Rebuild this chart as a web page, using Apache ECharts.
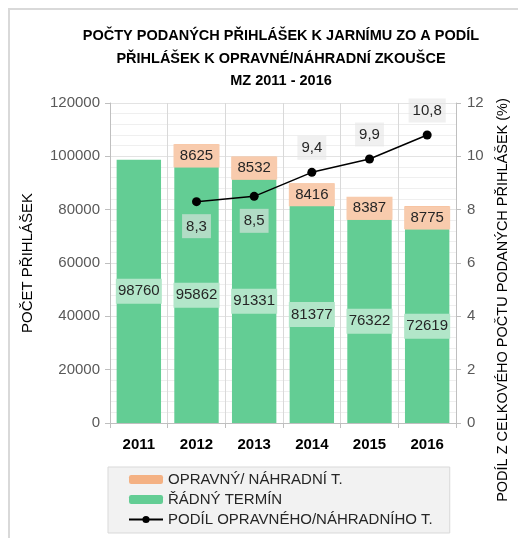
<!DOCTYPE html>
<html>
<head>
<meta charset="utf-8">
<script src="https://cdn.jsdelivr.net/npm/echarts@6/dist/echarts.min.js"></script>
<style>
  html, body { margin: 0; padding: 0; background: #fff; }
  #chart { width: 518px; height: 538px; }
</style>
</head>
<body>
<div id="chart"></div>
<script>
// data
const roky = ['2011', '2012', '2013', '2014', '2015', '2016']
const radny = [98760, 95862, 91331, 81377, 76322, 72619]
const opravny = [null, 8625, 8532, 8416, 8387, 8775]
const podil = [null, 8.3, 8.5, 9.4, 9.9, 10.8]

const nazvy = ['OPRAVNÝ/ NÁHRADNÍ T.', 'ŘÁDNÝ TERMÍN', 'PODÍL OPRAVNÉHO/NÁHRADNÍHO T.']
const pismo = 'Liberation Sans'

// popisky pod bodem u prvnich dvou let
const dole = ['2012', '2013']

const chart = echarts.init(document.getElementById('chart'))

const option = {
  animation: false,
  textStyle: {fontFamily: pismo},
  title: {
    text: 'POČTY PODANÝCH PŘIHLÁŠEK K JARNÍMU ZO A PODÍL\nPŘIHLÁŠEK K OPRAVNÉ/NÁHRADNÍ ZKOUŠCE\nMZ 2011 - 2016',
    left: 276,
    top: 20,
    textAlign: 'center',
    textStyle: {
      fontFamily: pismo,
      fontSize: 14.5,
      fontWeight: 'bold',
      color: '#000',
      lineHeight: 22.5
    }
  },
  graphic: [{
    type: 'rect',
    shape: {x: 9, y: 9, width: 700, height: 700},
    style: {fill: 'none', stroke: '#d9d9d9', lineWidth: 2},
    silent: true
  }],
  legend: {
    left: 108,
    top: 467,
    orient: 'vertical',
    data: nazvy,
    backgroundColor: '#f2f2f2',
    borderColor: '#d9d9d9',
    borderWidth: 1,
    padding: [5, 17, 6, 20],
    itemGap: 5,
    itemWidth: 34,
    itemHeight: 9,
    textStyle: {fontFamily: pismo, fontSize: 15, color: '#262626'}
  },
  grid: {left: 110, right: 57, top: 103, bottom: 115},
  xAxis: {
    type: 'category',
    data: roky,
    axisLine: {lineStyle: {color: '#bfbfbf'}},
    axisTick: {show: true, length: 5, lineStyle: {color: '#bfbfbf'}},
    splitLine: {show: true, lineStyle: {color: '#d9d9d9'}},
    axisLabel: {fontFamily: pismo, fontSize: 15, fontWeight: 'bold', color: '#000', margin: 14}
  },
  yAxis: [
    {
      type: 'value',
      min: 0,
      max: 120000,
      interval: 20000,
      name: 'POČET PŘIHLÁŠEK',
      nameLocation: 'middle',
      nameGap: 75,
      nameTextStyle: {fontFamily: pismo, fontSize: 15, color: '#000'},
      axisLine: {show: true, lineStyle: {color: '#bfbfbf'}},
      axisTick: {show: true, length: 5, lineStyle: {color: '#bfbfbf'}},
      axisLabel: {fontFamily: pismo, fontSize: 15, color: '#595959', margin: 10, formatter: v => String(v)},
      splitLine: {show: true, lineStyle: {color: '#e3e3e3'}},
      minorSplitLine: {show: true, lineStyle: {color: '#efefef'}},
      minorTick: {show: false, splitNumber: 5}
    },
    {
      type: 'value',
      min: 0,
      max: 12,
      interval: 2,
      position: 'right',
      name: 'PODÍL Z CELKOVÉHO POČTU PODANÝCH PŘIHLÁŠEK (%)',
      nameLocation: 'middle',
      nameRotate: 90,
      nameGap: 39,
      nameTextStyle: {fontFamily: pismo, fontSize: 14.5, color: '#000', padding: [0, 74, 0, 0]},
      axisLine: {show: true, lineStyle: {color: '#bfbfbf'}},
      axisTick: {show: true, length: 5, lineStyle: {color: '#bfbfbf'}},
      axisLabel: {fontFamily: pismo, fontSize: 15, color: '#595959', margin: 11},
      splitLine: {show: false}
    }
  ],
  series: [
    {
      name: nazvy[1],
      type: 'bar',
      stack: 'prihlasky',
      barWidth: '77%',
      data: radny,
      itemStyle: {color: '#63cd94'},
      label: {
        show: true,
        position: 'inside',
        fontFamily: pismo,
        fontSize: 15,
        color: '#262626',
        width: 44,
        align: 'center',
        backgroundColor: '#b2e6c9',
        padding: [6, 1, 4, 1]
      }
    },
    {
      name: nazvy[0],
      type: 'bar',
      stack: 'prihlasky',
      barWidth: '77%',
      data: opravny,
      itemStyle: {color: '#f4b183'},
      label: {
        show: true,
        position: 'inside',
        fontFamily: pismo,
        fontSize: 15,
        color: '#262626',
        width: 44,
        align: 'center',
        backgroundColor: '#f8cbad',
        padding: [5, 1, 3, 1]
      }
    },
    {
      name: nazvy[2],
      type: 'line',
      yAxisIndex: 1,
      data: podil.map((v, i) => ({
        value: v,
        label: {position: dole.includes(roky[i]) ? 'bottom' : 'top'}
      })),
      symbol: 'circle',
      symbolSize: 9,
      lineStyle: {color: '#000', width: 1.5},
      itemStyle: {color: '#000'},
      label: {
        show: true,
        distance: 8,
        fontFamily: pismo,
        fontSize: 15,
        color: '#262626',
        backgroundColor: 'rgba(230,230,230,0.6)',
        padding: [5, 4, 4, 4],
        formatter: p => String(p.value).replace('.', ',')
      }
    }
  ]
}

chart.setOption(option)
</script>
</body>
</html>
